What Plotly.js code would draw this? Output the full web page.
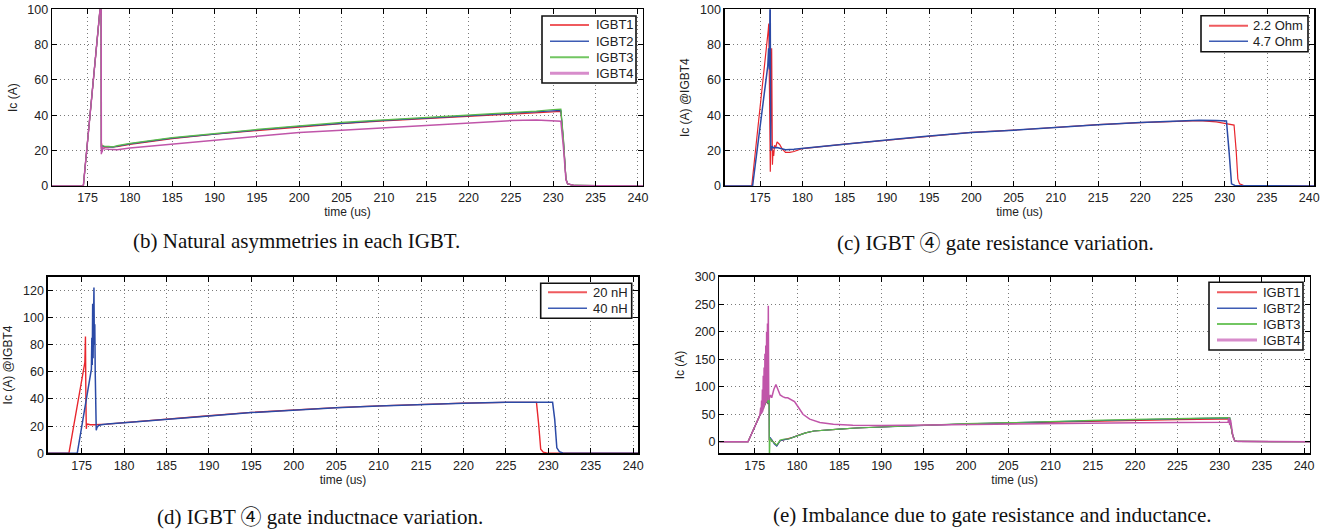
<!DOCTYPE html>
<html><head><meta charset="utf-8">
<script src="https://cdn.plot.ly/plotly-3.0.1.min.js"></script>
<style>html,body{margin:0;padding:0;background:#fff}#chart{width:1343px;height:530px}</style>
</head><body><div id="chart"></div>
<script>
// ---------- data (time in us, current in A) ----------
const xTicks = [175,180,185,190,195,200,205,210,215,220,225,230,235,240];

// (b) natural asymmetries
const bNames = ['IGBT1','IGBT2','IGBT3','IGBT4'];
const bTime  = [170.8,174.5,176.55,176.6,176.63,176.67,176.72,176.8,177.0,177.5,178.0,178.5,180,185,190,195,200,205,210,215,220,225,228,230,230.9,231.2,231.5,231.7,232.5,240.6];
const bIGBT1 = [0,0,104,130,21,24,20,22.5,22,22,21.8,22.2,23.5,26.8,29.3,31.4,33.4,35.3,36.8,38.1,39.4,40.7,41.4,42,42.2,25,4,1.2,0.3,0];
const bIGBT2 = [0,0,104,130,22,23,21,22.5,22.3,22.2,22,22.5,23.8,27.1,29.6,31.7,33.7,35.6,37.1,38.4,39.7,41,41.9,42.6,42.8,26,4,1.2,0.3,0];
const bIGBT3 = [0,0,104,130,23,21,22.5,22.8,22.5,22.4,22.2,22.8,24.1,27.4,29.9,32,34,36,37.4,38.7,40,41.4,42.4,43.3,43.5,27,4,1.2,0.3,0];
const bIGBT4 = [0,0,104,130,18,23,19,21.5,21,20.8,20.5,20.5,21.5,23.7,26,28.3,30.3,31.6,33,34.5,35.8,37,37.3,37,36.6,22,3.5,1.2,0.3,0];
const bYTicks = [0,20,40,60,80,100];

// (c) gate resistance variation
const cNames = ['2.2 Ohm','4.7 Ohm'];
const cTime47 = [170.8,174.1,175.9,176.0,176.1,176.18,176.25,176.3,176.4,176.6,177,177.5,178,179,180,185,190,195,200,205,210,215,220,225,227,229,230.2,230.5,230.8,231.2,240.6];
const cOhm47  = [0,0,68,78,66,115,22,20,22.5,21.5,21.8,21.3,20.5,20.8,21.3,23.7,26,28.3,30.3,31.6,33.3,34.7,35.9,36.9,37.2,37.1,36.8,20,1.2,0.3,0];
const cTime22 = [170.8,174.0,175.95,176.02,176.1,176.2,176.28,176.36,176.45,176.52,176.6,176.7,176.85,177.0,177.3,177.6,178.0,178.5,179.0,179.5,180,185,190,195,200,205,210,215,220,225,227,229,230.5,231.1,231.35,231.55,231.75,232.2,240.6];
const cOhm22  = [0,0,88,92,55,8,40,78,12,20,17,23,22,25,23.5,21,19,19,19.5,20.5,21.2,23.7,26,28.3,30.3,31.6,33.3,34.7,35.9,36.9,37,36.3,35.2,34.5,20,4,1.2,0.4,0];
const cYTicks = [0,20,40,60,80,100];

// (d) gate inductance variation
const dNames = ['20 nH','40 nH'];
const dTime40 = [171,174.48,176.15,176.2,176.25,176.3,176.35,176.4,176.45,176.5,176.55,176.6,176.65,176.72,176.8,177.0,177.3,177.6,178,180,185,190,195,200,205,210,215,220,225,228,230.5,230.75,231.0,231.3,231.7,240.6];
const d40nH   = [0,0,62,85,65,110,70,100,122,80,95,60,25,17,19,20.5,21,21,21.5,22.5,25.2,27.5,30,32,33.5,34.8,35.9,36.8,37.5,37.6,37.5,25,4,1.2,0.3,0];
const dTime20 = [171,173.5,175.38,175.4,175.45,175.5,175.55,175.6,175.7,176.0,176.5,177.0,177.5,178,180,185,190,195,200,205,210,215,220,225,228.6,228.85,229.1,229.4,229.8,240.6];
const d20nH   = [0,0,67,80,86,40,18,21,21.5,21,21,21,21,21.5,22.6,25.3,27.6,30.1,32.1,33.6,34.9,36,36.9,37.5,37.5,22,3,0.8,0.2,0];
const dYTicks = [0,20,40,60,80,100,120];

// (e) imbalance due to gate resistance and inductance
const eNames = ['IGBT1','IGBT2','IGBT3','IGBT4'];
const eTime123 = [170.8,174.2,175.6,176.0,176.2,176.3,176.35,176.4,176.45,176.5,176.55,176.6,176.65,176.7,176.72,176.8,177.0,177.3,177.6,178.0,178.5,179.0,179.5,180.2,181,182,183,185,187,190,195,200,205,210,215,220,225,230,231.2,231.5,231.8,232.2,240.7];
const eIGBT1 = [0,0,48,60,68,78,70,82,72,85,68,84,70,75,2,4,3,-3,-7,2,4,5,8,12,16,19.5,21,23,25,27,30,32.3,34,36,37.5,39,40.2,41.2,41.5,14,1.5,0.5,0];
const eIGBT2 = [0,0,48,60,68,79,71,84,73,87,69,85,71,78,3,8,4,-4,-8,2,4,5,8,12,16,19.5,21,23,25,27,30.3,32.6,34.3,36.6,38.2,40,41.5,43.2,43.5,15,1.5,0.5,0];
const eIGBT3 = [0,0,48,60,68,80,72,85,75,88,70,86,72,80,-40,6,2,-2,-6,3,5,5,8,12,16,19.5,21,23,25,27,30.5,32.8,34.6,37.2,38.8,40.5,42,43.7,44,15,1.5,0.5,0];
const eTime4 = [170.8,174.2,175.6,175.7,175.75,175.8,175.85,175.9,175.95,176.0,176.05,176.1,176.15,176.2,176.25,176.3,176.35,176.4,176.45,176.5,176.55,176.6,176.65,176.7,176.85,177.0,177.25,177.5,177.8,178.0,178.3,178.6,178.9,179.3,179.7,180.1,180.7,181.5,182.7,184.3,186.6,190,195,200,205,210,215,220,225,230,231.0,231.1,231.2,231.3,231.4,231.6,231.8,232.2,240.7];
const eIGBT4 = [0,0,48,62,50,75,52,95,55,120,60,135,65,160,70,175,72,200,75,215,80,247,76,78,85,80,95,104,90,85,82,80,80,76,73,64,50,41,35,31.6,29.8,29.5,30.5,31.6,32.7,33.3,34,34.6,35,35.2,35.5,44,30,40,25,8,1.5,0.5,0];
const eYTicks = [0,50,100,150,200,250,300];

// ---------- styling ----------
const W = 1343, H = 530;
const px = v => v / W, py = v => 1 - v / H;
const RED = '#e8262d', BLUE = '#2b4aa6', GREEN = '#5bbb4a', PINK = '#c055a9';
const RED_L = '#ef5a5e', BLUE_L = '#3d5cb4', GREEN_L = '#72c662', PINK_L = '#d78ccb';
const SANS = 'Liberation Sans, Arial, sans-serif';
const SERIF = 'Liberation Serif, Times New Roman, serif';
const C4 = '<span style="font-family:\'Noto Sans CJK JP\'">④</span>';

function tr(x, y, name, color, xa, ya, w) {
  return {x, y, name, type: 'scatter', mode: 'lines', xaxis: xa, yaxis: ya, showlegend: false,
          line: {color, width: w || 1.2}, hoverinfo: 'skip'};
}
const data = [
  tr(bTime, bIGBT1, bNames[0], RED,   'x',  'y'),
  tr(bTime, bIGBT2, bNames[1], BLUE,  'x',  'y'),
  tr(bTime, bIGBT3, bNames[2], GREEN, 'x',  'y'),
  tr(bTime, bIGBT4, bNames[3], PINK,  'x',  'y', 1.5),
  tr(cTime22, cOhm22, cNames[0], RED,  'x2', 'y2'),
  tr(cTime47, cOhm47, cNames[1], BLUE, 'x2', 'y2', 1.5),
  tr(dTime20, d20nH, dNames[0], RED,  'x3', 'y3', 1.4),
  tr(dTime40, d40nH, dNames[1], BLUE, 'x3', 'y3', 1.5),
  tr(eTime123, eIGBT1, eNames[0], RED,   'x4', 'y4'),
  tr(eTime123, eIGBT2, eNames[1], BLUE,  'x4', 'y4'),
  tr(eTime123, eIGBT3, eNames[2], GREEN, 'x4', 'y4'),
  tr(eTime4,   eIGBT4, eNames[3], PINK,  'x4', 'y4', 1.5)
];

const GRID = {showgrid: true, gridcolor: '#7a7a7a', griddash: '1px,3px', gridwidth: 1, zeroline: false};
function xax(l, r, anchor, range) {
  return Object.assign({domain: [px(l), px(r)], anchor, range, tickvals: xTicks, ticks: 'inside', ticklen: 5,
          tickcolor: '#000', showline: true, linecolor: '#000', linewidth: 1.3, mirror: 'ticks',
          tickfont: {family: SANS, size: 12.5, color: '#222'},
          title: {text: 'time (us)', font: {family: SANS, size: 12, color: '#222'}, standoff: 2}}, GRID);
}
function yax(t, b, anchor, range, ticks, label) {
  return Object.assign({domain: [py(b), py(t)], anchor, range, tickvals: ticks, ticks: 'inside', ticklen: 5,
          tickcolor: '#000', showline: true, linecolor: '#000', linewidth: 1.3, mirror: 'ticks',
          tickfont: {family: SANS, size: 12.5, color: '#222'},
          title: {text: label, font: {family: SANS, size: 12, color: '#222'}, standoff: 7}}, GRID);
}

// hand-drawn MATLAB-style legends (box, sample lines, labels)
const shapes = [], annotations = [];
function legendBox(box, lineX0, lineX1, textX, rows, names, colors, widths) {
  shapes.push({type: 'rect', xref: 'paper', yref: 'paper', x0: px(box[0]), x1: px(box[1]),
               y0: py(box[3]), y1: py(box[2]), fillcolor: '#fff', line: {color: '#111', width: 1.6}, layer: 'above'});
  names.forEach((n, i) => {
    shapes.push({type: 'line', xref: 'paper', yref: 'paper', x0: px(lineX0), x1: px(lineX1),
                 y0: py(rows[i]), y1: py(rows[i]), line: {color: colors[i], width: widths[i]}, layer: 'above'});
    annotations.push({x: px(textX), y: py(rows[i]), xref: 'paper', yref: 'paper', xanchor: 'left',
                      yanchor: 'middle', showarrow: false, text: n,
                      font: {family: SANS, size: 13, color: '#222'}});
  });
}
legendBox([542, 636, 16, 83], 550, 589, 594, [25, 41.3, 57.3, 73.3], bNames, [RED_L, BLUE_L, GREEN_L, PINK_L], [2, 1.6, 2, 3]);
legendBox([1201, 1308, 15.7, 51.7], 1209, 1248, 1251, [25.7, 41.3], cNames, [RED_L, BLUE_L], [2, 1.6]);
legendBox([540.7, 631.7, 283.3, 318.3], 548, 587, 591, [292.3, 308.3], dNames, [RED_L, BLUE_L], [2, 1.6]);
legendBox([1209, 1303, 282.3, 350], 1217, 1257, 1261, [292.3, 308.3, 324, 340], eNames, [RED_L, BLUE_L, GREEN_L, PINK_L], [2, 1.6, 2, 3]);

function cap(x, y, text) {
  return {x: px(x), y: py(y), xref: 'paper', yref: 'paper', xanchor: 'left', yanchor: 'middle',
          showarrow: false, text, font: {family: SERIF, size: 21, color: '#111'}};
}
annotations.push(
  cap(131, 241, '(b) Natural asymmetries in each IGBT.'),
  cap(835, 241, '(c) IGBT ' + C4 + ' gate resistance variation.'),
  cap(155, 515, '(d) IGBT ' + C4 + ' gate inductnace variation.'),
  cap(771, 515, '(e) Imbalance due to gate resistance and inductance.')
);

const layout = {
  width: W, height: H, margin: {l: 0, r: 0, t: 0, b: 0}, paper_bgcolor: '#fff', plot_bgcolor: '#fff',
  showlegend: false,
  xaxis:  xax(52, 643, 'y', [170.8, 240.6]),
  yaxis:  yax(9.3, 186, 'x', [0, 100], bYTicks, 'Ic (A)'),
  xaxis2: xax(724.7, 1314.3, 'y2', [170.8, 240.6]),
  yaxis2: yax(9.3, 186, 'x2', [0, 100], cYTicks, 'Ic (A) @IGBT4'),
  xaxis3: xax(47.7, 638.3, 'y3', [171, 240.6]),
  yaxis3: yax(276.7, 453.3, 'x3', [0, 130], dYTicks, 'Ic (A) @IGBT4'),
  xaxis4: xax(719.3, 1310, 'y4', [170.8, 240.7]),
  yaxis4: yax(276.7, 453.3, 'x4', [-21, 300], eYTicks, 'Ic (A)'),
  shapes, annotations
};
Plotly.newPlot('chart', data, layout, {displayModeBar: false, staticPlot: true});
</script></body></html>
